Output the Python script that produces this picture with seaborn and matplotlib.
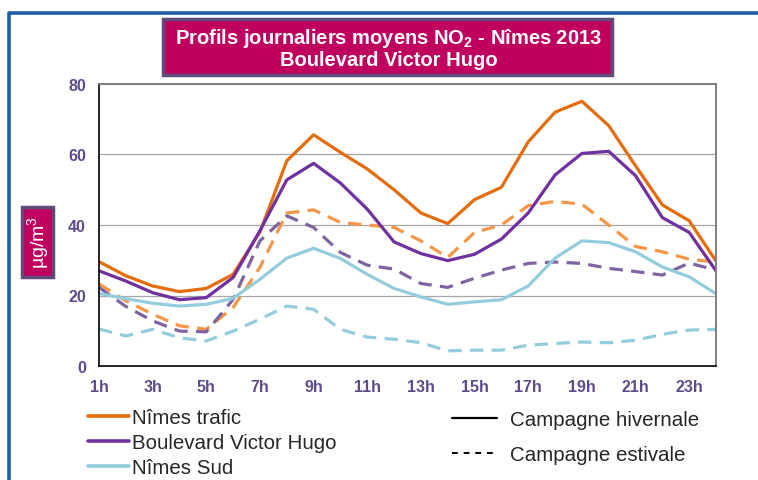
import matplotlib
matplotlib.use("Agg")
import matplotlib.pyplot as plt
import seaborn as sns
import pandas as pd
from matplotlib.lines import Line2D
from matplotlib.patches import Rectangle

# === DATA ===
hours = list(range(1, 25))
tick_hours = list(range(1, 24, 2))
tick_labels = [f"{h}h" for h in tick_hours]

trafic_hiver = [29.6, 25.6, 22.7, 21.1, 22.0, 26.0, 38.0, 58.2, 65.6, 60.6, 55.9, 50.0,
                43.4, 40.4, 47.2, 50.7, 63.6, 72.0, 75.1, 68.2, 56.8, 45.7, 41.2, 29.8]
hugo_hiver = [27.0, 24.1, 20.8, 18.8, 19.4, 25.1, 38.4, 52.8, 57.5, 51.9, 44.5, 35.2,
              31.9, 29.9, 31.7, 36.0, 43.4, 54.2, 60.3, 60.9, 54.0, 42.1, 37.9, 27.0]
sud_hiver = [20.6, 19.1, 17.8, 17.0, 17.5, 19.2, 24.6, 30.6, 33.4, 30.5, 26.0, 22.0,
             19.6, 17.5, 18.2, 18.8, 22.7, 30.6, 35.5, 35.0, 32.4, 28.1, 25.3, 20.5]
trafic_ete = [23.3, 18.5, 14.7, 11.4, 10.4, 16.6, 28.0, 43.4, 44.3, 40.7, 40.0, 39.3,
              35.5, 30.8, 37.9, 40.0, 45.5, 46.7, 45.9, 40.0, 33.9, 32.4, 30.3, 29.5]
hugo_ete = [22.3, 16.9, 12.8, 9.9, 9.7, 18.9, 35.5, 42.6, 39.3, 32.2, 28.6, 27.5,
            23.4, 22.3, 24.9, 27.2, 29.1, 29.5, 29.1, 27.7, 26.8, 25.8, 29.2, 27.2]
sud_ete = [10.5, 8.5, 10.4, 8.0, 7.1, 9.9, 13.3, 17.0, 16.1, 10.4, 8.2, 7.6,
           6.6, 4.3, 4.5, 4.5, 5.9, 6.4, 6.8, 6.6, 7.3, 9.0, 10.2, 10.4]

stations = ["Nîmes trafic", "Boulevard Victor Hugo", "Nîmes Sud"]
campagnes = ["Campagne hivernale", "Campagne estivale"]

# colours: (winter, summer)
colors = {
    "Nîmes trafic": ("#E46C0A", "#F79646"),
    "Boulevard Victor Hugo": ("#7030A0", "#8064A2"),
    "Nîmes Sud": ("#93CDDD", "#93CDDD"),
}

series = {
    ("Nîmes trafic", "Campagne hivernale"): trafic_hiver,
    ("Boulevard Victor Hugo", "Campagne hivernale"): hugo_hiver,
    ("Nîmes Sud", "Campagne hivernale"): sud_hiver,
    ("Nîmes trafic", "Campagne estivale"): trafic_ete,
    ("Boulevard Victor Hugo", "Campagne estivale"): hugo_ete,
    ("Nîmes Sud", "Campagne estivale"): sud_ete,
}

rows = []
for (st, camp), vals in series.items():
    for h, v in zip(hours, vals):
        rows.append({"heure": h, "station": st, "campagne": camp, "no2": v})
df = pd.DataFrame(rows)

# === STYLE ===
sns.set_style("white")
plt.rcParams["font.family"] = ["Liberation Sans", "DejaVu Sans"]
plt.rcParams["mathtext.default"] = "regular"

purple_txt = "#5F4B8B"
box_fill = "#C0005F"
box_edge = "#604A7B"

fig = plt.figure(figsize=(7.58, 4.81), dpi=100)
ax = fig.add_axes([99 / 758, 1 - 367 / 481, 617 / 758, 282 / 481])

# summer lines first, winter on top
for camp, dash in [("Campagne estivale", (4.2, 2.6)), ("Campagne hivernale", None)]:
    for st in stations:
        sub = df[(df.station == st) & (df.campagne == camp)]
        col = colors[st][0] if dash is None else colors[st][1]
        sns.lineplot(data=sub, x="heure", y="no2", ax=ax, color=col,
                     linewidth=2.3, legend=False)
        if dash is not None:
            ax.lines[-1].set_dashes(dash)

ax.set_xlim(1, 24)
ax.set_ylim(0, 80)
ax.set_xticks(tick_hours)
ax.set_xticklabels(tick_labels)
ax.set_yticks([0, 20, 40, 60, 80])
ax.set_xlabel("")
ax.set_ylabel("")
ax.yaxis.grid(True, color="#A6A6A6", linewidth=0.9)
ax.set_axisbelow(True)
ax.tick_params(axis="both", which="major", direction="out", length=4.5, width=1,
               color="black", labelsize=11.5, labelcolor=purple_txt)
ax.tick_params(axis="x", pad=5)
ax.tick_params(axis="y", pad=5)
for lab in ax.get_xticklabels() + ax.get_yticklabels():
    lab.set_fontweight("bold")
for side in ["left", "bottom"]:
    ax.spines[side].set_color("black")
    ax.spines[side].set_linewidth(1.2)
for side in ["top", "right"]:
    ax.spines[side].set_color("#7F7F7F")
    ax.spines[side].set_linewidth(1.4)

# === TITLE BOX ===
fig.add_artist(Rectangle((163 / 758, 1 - 76 / 481), 449 / 758, 56 / 481,
                         transform=fig.transFigure, facecolor=box_fill,
                         edgecolor=box_edge, linewidth=2.5))
fig.text(389 / 758, 1 - 39 / 481, "Profils journaliers moyens NO$_2$ - Nîmes 2013",
         ha="center", va="center", color="white", fontsize=14.5, fontweight="bold")
fig.text(389 / 758, 1 - 60 / 481, "Boulevard Victor Hugo",
         ha="center", va="center", color="white", fontsize=14.5, fontweight="bold")

# === Y LABEL BOX ===
fig.add_artist(Rectangle((22 / 758, 1 - 278 / 481), 31 / 758, 70 / 481,
                         transform=fig.transFigure, facecolor=box_fill,
                         edgecolor=box_edge, linewidth=2.5))
fig.text(38 / 758, 1 - 243 / 481, "µg/m$^3$", rotation=90, ha="center",
         va="center", color="white", fontsize=14)

# === OUTER BLUE FRAME ===
fig.add_artist(Line2D([8.5 / 758, 8.5 / 758, 1.0], [0.0, 1 - 13.5 / 481, 1 - 13.5 / 481],
                      transform=fig.transFigure, color="#1F5FA8", linewidth=2.6))

# === LEGENDS ===
station_handles = [Line2D([0], [0], color=colors[st][0], linewidth=2.6) for st in stations]
fig.legend(station_handles, stations, loc="upper left",
           bbox_to_anchor=(88 / 758, 1 - 409 / 481), frameon=False,
           fontsize=14.8, handlelength=2.0, handletextpad=0.15,
           labelspacing=0.3, borderpad=0, borderaxespad=0)

camp_handles = [Line2D([0], [0], color="black", linewidth=1.6),
                Line2D([0], [0], color="black", linewidth=1.4, linestyle=(0, (3, 3)))]
fig.legend(camp_handles, campagnes, loc="upper left",
           bbox_to_anchor=(452 / 758, 1 - 411 / 481), frameon=False,
           fontsize=14.8, handlelength=2.2, handletextpad=0.6,
           labelspacing=0.78, borderpad=0, borderaxespad=0)

fig.savefig("out.png", dpi=100)
plt.close(fig)
